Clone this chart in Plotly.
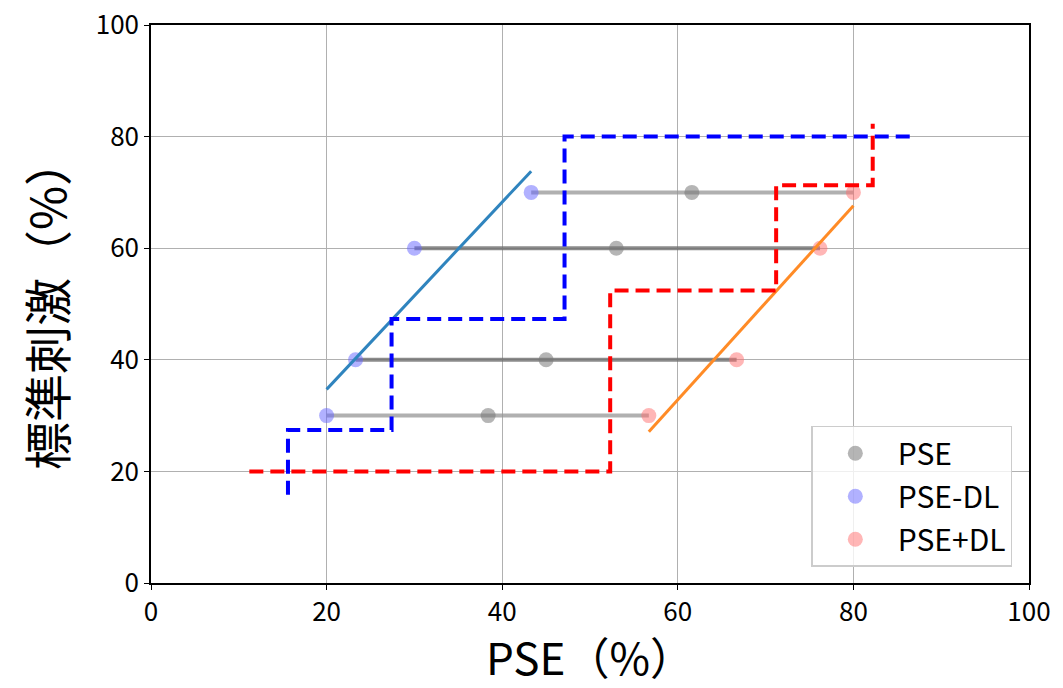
import plotly.graph_objects as go

# Standard stimulus levels (%) and measured points of subjective equality
standard = [30, 40, 60, 70]
pse = [38.4, 45.0, 53.0, 61.6]
pse_minus_dl = [20.0, 23.3, 30.0, 43.3]
pse_plus_dl = [56.7, 66.7, 76.2, 80.0]

# Linear fits through the lower and upper limits
fit_lower_x = [20.0, 43.3]
fit_lower_y = [34.7, 73.8]
fit_upper_x = [56.7, 80.0]
fit_upper_y = [27.1, 67.6]

# Staircase boundaries
step_lower_x = [15.6, 27.4, 47.1, 87.2]
step_lower_y = [15.8, 27.4, 47.3, 80.0]
step_upper_x = [11.2, 52.3, 71.2, 82.2]
step_upper_y = [20.0, 52.4, 71.3, 82.3]

range_line_colors = ["rgba(150,150,150,0.75)", "rgba(110,110,110,0.8)",
                     "rgba(110,110,110,0.8)", "rgba(150,150,150,0.75)"]

fig = go.Figure()

for s, lo, hi, c in zip(standard, pse_minus_dl, pse_plus_dl, range_line_colors):
    fig.add_trace(go.Scatter(x=[lo, hi], y=[s, s], mode="lines",
                             line=dict(color=c, width=4), showlegend=False,
                             hoverinfo="skip"))

fig.add_trace(go.Scatter(x=pse, y=standard, mode="markers", name="PSE", legendgroup="a",
                         marker=dict(color="rgba(120,120,120,0.55)", size=15)))
fig.add_trace(go.Scatter(x=pse_minus_dl, y=standard, mode="markers", name="PSE-DL",
                         legendgroup="b",
                         marker=dict(color="rgba(100,100,255,0.5)", size=15)))
fig.add_trace(go.Scatter(x=pse_plus_dl, y=standard, mode="markers", name="PSE+DL",
                         legendgroup="c",
                         marker=dict(color="rgba(255,110,110,0.5)", size=15)))

fig.add_trace(go.Scatter(x=fit_lower_x, y=fit_lower_y, mode="lines", showlegend=False,
                         line=dict(color="#2f84be", width=3)))
fig.add_trace(go.Scatter(x=fit_upper_x, y=fit_upper_y, mode="lines", showlegend=False,
                         line=dict(color="#ff8b26", width=3)))

fig.add_trace(go.Scatter(x=step_lower_x, y=step_lower_y, mode="lines", showlegend=False,
                         line=dict(color="#0000ff", width=4, dash="14px,7px", shape="vh")))
fig.add_trace(go.Scatter(x=step_upper_x, y=step_upper_y, mode="lines", showlegend=False,
                         line=dict(color="#ff0000", width=4, dash="14px,7px", shape="hv")))

font_family = "Noto Sans CJK JP"
axis_common = dict(
    range=[0, 100], dtick=20, showgrid=True, gridcolor="#b0b0b0", gridwidth=1.3,
    showline=True, linecolor="black", linewidth=1.5, mirror=True,
    ticks="outside", ticklen=5, tickcolor="black", zeroline=False,
    tickfont=dict(size=26, color="black", family=font_family),
    automargin=False,
)

fig.update_layout(
    width=1063, height=688,
    margin=dict(l=151, r=34, t=25, b=105),
    plot_bgcolor="white", paper_bgcolor="white",
    font=dict(family=font_family, color="black"),
    xaxis=dict(title=dict(text="PSE（%）", font=dict(size=44), standoff=12), **axis_common),
    yaxis=dict(title=dict(text="標準刺激（%）", font=dict(size=48), standoff=14), **axis_common),
    legend=dict(x=0.981, y=0.029, xanchor="right", yanchor="bottom",
                bgcolor="rgba(255,255,255,0.8)", bordercolor="#cccccc", borderwidth=1.5,
                font=dict(size=30, family=font_family), itemwidth=75,
                tracegroupgap=1),
)

fig.write_html("out.html")
